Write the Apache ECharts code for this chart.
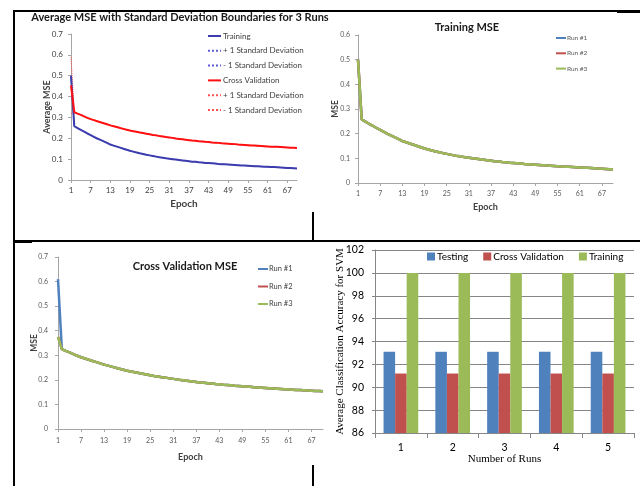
<!DOCTYPE html>
<html><head><meta charset="utf-8">
<script src="https://cdn.jsdelivr.net/npm/echarts@6/dist/echarts.min.js"></script>
<style>html,body{margin:0;padding:0;background:#fff}#c{width:640px;height:486px}</style>
</head><body><div id="c"></div>
<script>
// ---------- data ----------
const epochs = ['1','2','3','4','5','6','7','8','9','10','11','12','13','14','15','16','17','18','19','20',
  '21','22','23','24','25','26','27','28','29','30','31','32','33','34','35','36','37','38','39','40',
  '41','42','43','44','45','46','47','48','49','50','51','52','53','54','55','56','57','58','59','60',
  '61','62','63','64','65','66','67','68','69','70'];
const epochLabelStep = 6;

// Training MSE (the three runs give the same curve)
const trainRun1 = [0.500,0.258,0.249,0.240,0.232,0.223,0.215,0.207,0.199,0.192,
  0.185,0.178,0.170,0.165,0.160,0.155,0.150,0.145,0.140,0.136,
  0.132,0.128,0.125,0.121,0.118,0.115,0.112,0.109,0.107,0.104,
  0.102,0.100,0.098,0.096,0.094,0.092,0.090,0.088,0.087,0.085,
  0.084,0.082,0.081,0.080,0.079,0.077,0.076,0.075,0.074,0.073,
  0.072,0.071,0.070,0.069,0.068,0.067,0.066,0.066,0.065,0.064,
  0.063,0.062,0.062,0.061,0.060,0.059,0.058,0.057,0.056,0.055];
const trainRun2 = trainRun1.slice();
const trainRun3 = trainRun1.slice();

// Cross validation MSE (runs 2 and 3 identical, run 1 differs at epoch 1)
const cvRun2 = [0.375,0.325,0.318,0.312,0.305,0.298,0.292,0.287,0.282,0.277,
  0.272,0.267,0.262,0.258,0.254,0.249,0.245,0.241,0.237,0.234,
  0.231,0.228,0.225,0.222,0.219,0.216,0.214,0.211,0.209,0.206,
  0.204,0.202,0.199,0.197,0.195,0.193,0.191,0.189,0.188,0.186,
  0.185,0.183,0.182,0.180,0.179,0.178,0.176,0.175,0.174,0.173,
  0.172,0.170,0.169,0.168,0.167,0.166,0.165,0.164,0.163,0.162,
  0.161,0.160,0.159,0.159,0.158,0.157,0.156,0.155,0.155,0.154];
const cvRun3 = cvRun2.slice();
const cvRun1 = [0.610].concat(cvRun2.slice(1));

const mseTicksA = [0,0.1,0.2,0.3,0.4,0.5,0.6,0.7];
const mseTicksB = [0,0.1,0.2,0.3,0.4,0.5,0.6];

// SVM accuracy
const runNumbers = ['1','2','3','4','5'];
const testingAcc = [93.1,93.1,93.1,93.1,93.1];
const cvAcc = [91.2,91.2,91.2,91.2,91.2];
const trainingAcc = [100,100,100,100,100];
const accTicks = [86,88,90,92,94,96,98,100,102];

// ---------- derived statistics ----------
function mean(a){return a.reduce((s,v)=>s+v,0)/a.length;}
function sd(a){const m=mean(a);return Math.sqrt(a.reduce((s,v)=>s+(v-m)*(v-m),0)/(a.length-1));}
function stats(runs){
  const m=[],p=[],n=[];
  for(let i=0;i<runs[0].length;i++){
    const vals=runs.map(r=>r[i]);const mu=mean(vals),s=sd(vals);
    m.push(+mu.toFixed(4));p.push(+(mu+s).toFixed(4));n.push(+(mu-s).toFixed(4));
  }
  return {m,p,n};
}
const trS = stats([trainRun1,trainRun2,trainRun3]);
const cvS = stats([cvRun1,cvRun2,cvRun3]);

// ---------- chart ----------
const FONT = 'Lato';
const AX = '#a6a6a6';
const chart = echarts.init(document.getElementById('c'));

function catX(gi, labelSize, labelColor, margin, nameGap, nameSize){
  return {type:'category',gridIndex:gi,data:epochs,boundaryGap:false,
    axisLine:{lineStyle:{color:AX,width:1}},
    axisTick:{show:true,interval:epochLabelStep-1,length:3,inside:false,lineStyle:{color:AX}},
    axisLabel:{interval:epochLabelStep-1,fontSize:labelSize,color:labelColor,fontFamily:FONT,margin:margin},
    splitLine:{show:false},
    name:'Epoch',nameLocation:'middle',nameGap:nameGap,nameMoveOverlap:false,
    nameTextStyle:{fontSize:nameSize,fontWeight:'bold',color:'#404040',fontFamily:FONT}};
}
function valY(gi, ticks, name, labelSize, labelColor, margin, nameGap, nameSize){
  return {type:'value',gridIndex:gi,min:ticks[0],max:ticks[ticks.length-1],interval:ticks[1]-ticks[0],
    axisLine:{show:true,lineStyle:{color:AX,width:1}},
    axisTick:{show:true,length:3,lineStyle:{color:AX}},
    axisLabel:{fontSize:labelSize,color:labelColor,fontFamily:FONT,margin:margin},
    splitLine:{show:false},
    name:name,nameLocation:'middle',nameGap:nameGap,nameRotate:90,nameMoveOverlap:false,
    nameTextStyle:{fontSize:nameSize,fontWeight:'bold',color:'#404040',fontFamily:FONT}};
}
function ln(name, data, xi, color, width, type, z){
  return {type:'line',name:name,xAxisIndex:xi,yAxisIndex:xi,data:data,symbol:'none',showSymbol:false,
    lineStyle:{color:color,width:width,type:type},itemStyle:{color:color},z:z,animation:false};
}

const C1='#4F81BD', C2='#C0504D', C3='#9BBB59';
const noSym = {color:'transparent',borderColor:'transparent',borderWidth:0,opacity:0};

const option = {
  animation:false,
  backgroundColor:'#ffffff',
  textStyle:{fontFamily:FONT},
  title:[
    {text:'Average MSE with Standard Deviation Boundaries for 3 Runs',left:180,top:11.5,textAlign:'center',padding:0,
      textStyle:{fontSize:11,fontWeight:'bold',color:'#1a1a1a',fontFamily:FONT}},
    {text:'Training MSE',left:467,top:22,textAlign:'center',padding:0,
      textStyle:{fontSize:11,fontWeight:'bold',color:'#1a1a1a',fontFamily:FONT}},
    {text:'Cross Validation MSE',left:185,top:261,textAlign:'center',padding:0,
      textStyle:{fontSize:11,fontWeight:'bold',color:'#1a1a1a',fontFamily:FONT}}
  ],
  legend:[
    {orient:'vertical',left:207,top:32,padding:0,itemWidth:13,itemHeight:8,itemGap:6.8,itemStyle:noSym,
      data:['Training','+ 1 Standard Deviation','- 1 Standard Deviation','Cross Validation','+ 1 Standard Deviation ','- 1 Standard Deviation '],
      textStyle:{fontSize:8,lineHeight:8,color:'#404040',fontFamily:FONT,padding:[0,0,0,-3]}},
    {orient:'vertical',left:555,top:34,padding:0,itemWidth:10,itemHeight:8,itemGap:7.3,itemStyle:noSym,
      data:['Run #1','Run #2','Run #3'],
      textStyle:{fontSize:6.5,lineHeight:8,color:'#595959',fontFamily:FONT,padding:[0,0,0,-4]}},
    {orient:'vertical',left:257,top:265,padding:0,itemWidth:10,itemHeight:8,itemGap:9.5,itemStyle:noSym,
      data:['Run #1 ','Run #2 ','Run #3 '],
      textStyle:{fontSize:7.5,lineHeight:8,color:'#404040',fontFamily:FONT,padding:[0,0,0,-4]}},
    {orient:'horizontal',left:427,top:251.5,padding:0,itemWidth:8,itemHeight:8,itemGap:15,icon:'rect',
      data:['Testing','Cross Validation  ','Training  '],
      formatter:function(n){return n.trim();},
      textStyle:{fontSize:10,color:'#000',fontFamily:FONT,padding:[0,0,0,-3]}}
  ],
  grid:[
    {left:71,top:34,width:226,height:146,outerBoundsMode:'none',containLabel:false},
    {left:358,top:35,width:255,height:148,outerBoundsMode:'none',containLabel:false},
    {left:58,top:257,width:265,height:172,outerBoundsMode:'none',containLabel:false},
    {left:375,top:250,width:259,height:183,outerBoundsMode:'none',containLabel:false}
  ],
  xAxis:[
    catX(0,8,'#404040',6,19,10),
    catX(1,7,'#595959',7,20,9),
    catX(2,7,'#595959',8,24,9),
    {type:'category',gridIndex:3,data:runNumbers,
      axisLine:{lineStyle:{color:'#868686'}},
      axisTick:{show:true,length:5,lineStyle:{color:'#868686'}},
      axisLabel:{fontSize:10.5,color:'#000',fontFamily:FONT,margin:9},
      name:'Number of Runs',nameLocation:'middle',nameGap:21,nameMoveOverlap:false,
      nameTextStyle:{fontSize:11,color:'#000',fontFamily:'Liberation Serif'}}
  ],
  yAxis:[
    valY(0,mseTicksA,'Average MSE',8,'#404040',8,19,9),
    valY(1,mseTicksB,'MSE',7,'#595959',8,18,8.5),
    valY(2,mseTicksA,'MSE',7,'#595959',10,19,8.5),
    {type:'value',gridIndex:3,min:accTicks[0],max:accTicks[accTicks.length-1],interval:accTicks[1]-accTicks[0],
      axisLine:{show:true,lineStyle:{color:'#868686'}},
      axisTick:{show:true,length:3,lineStyle:{color:'#868686'}},
      axisLabel:{fontSize:10.5,color:'#000',fontFamily:FONT,margin:11},
      splitLine:{show:true,lineStyle:{color:'#868686',width:1}},
      name:'Average Classification Accuracy for SVM',nameLocation:'middle',nameGap:29,nameRotate:90,nameMoveOverlap:false,
      nameTextStyle:{fontSize:11,color:'#000',fontFamily:'Liberation Serif'}}
  ],
  series:[
    ln('+ 1 Standard Deviation',trS.p,0,'#5c5cd6',1,'dotted',2),
    ln('- 1 Standard Deviation',trS.n,0,'#5c5cd6',1,'dotted',2),
    ln('+ 1 Standard Deviation ',cvS.p,0,'#ff5050',1,'dotted',2),
    ln('- 1 Standard Deviation ',cvS.n,0,'#ff5050',1,'dotted',2),
    ln('Training',trS.m,0,'#3c3cae',2,'solid',3),
    ln('Cross Validation',cvS.m,0,'#ff1010',2,'solid',3),

    ln('Run #1',trainRun1,1,C1,2.5,'solid',2),
    ln('Run #2',trainRun2,1,C2,2.5,'solid',3),
    ln('Run #3',trainRun3,1,C3,2.5,'solid',4),

    ln('Run #1 ',cvRun1,2,C1,2.5,'solid',2),
    ln('Run #2 ',cvRun2,2,C2,2.5,'solid',3),
    ln('Run #3 ',cvRun3,2,C3,2.5,'solid',4),

    {type:'bar',name:'Testing',xAxisIndex:3,yAxisIndex:3,data:testingAcc,itemStyle:{color:C1},barGap:'0%',barCategoryGap:'33%'},
    {type:'bar',name:'Cross Validation  ',xAxisIndex:3,yAxisIndex:3,data:cvAcc,itemStyle:{color:C2},barGap:'0%',barCategoryGap:'33%'},
    {type:'bar',name:'Training  ',xAxisIndex:3,yAxisIndex:3,data:trainingAcc,itemStyle:{color:C3},barGap:'0%',barCategoryGap:'33%'}
  ],
  graphic:[
    {type:'line',shape:{x1:14,y1:11,x2:640,y2:11},style:{stroke:'#000',lineWidth:2},silent:true},
    {type:'line',shape:{x1:14,y1:10,x2:14,y2:486},style:{stroke:'#000',lineWidth:2},silent:true},
    {type:'line',shape:{x1:14,y1:241,x2:640,y2:241},style:{stroke:'#000',lineWidth:2},silent:true},
    {type:'line',shape:{x1:313,y1:212,x2:313,y2:240},style:{stroke:'#000',lineWidth:2},silent:true},
    {type:'line',shape:{x1:313,y1:465,x2:313,y2:486},style:{stroke:'#000',lineWidth:2},silent:true},
    {type:'rect',shape:{x:617,y:10,width:23,height:3},style:{fill:'#000'},silent:true},
    {type:'rect',shape:{x:14,y:240,width:18,height:3},style:{fill:'#000'},silent:true}
  ]
};
chart.setOption(option);
</script>
</body></html>
